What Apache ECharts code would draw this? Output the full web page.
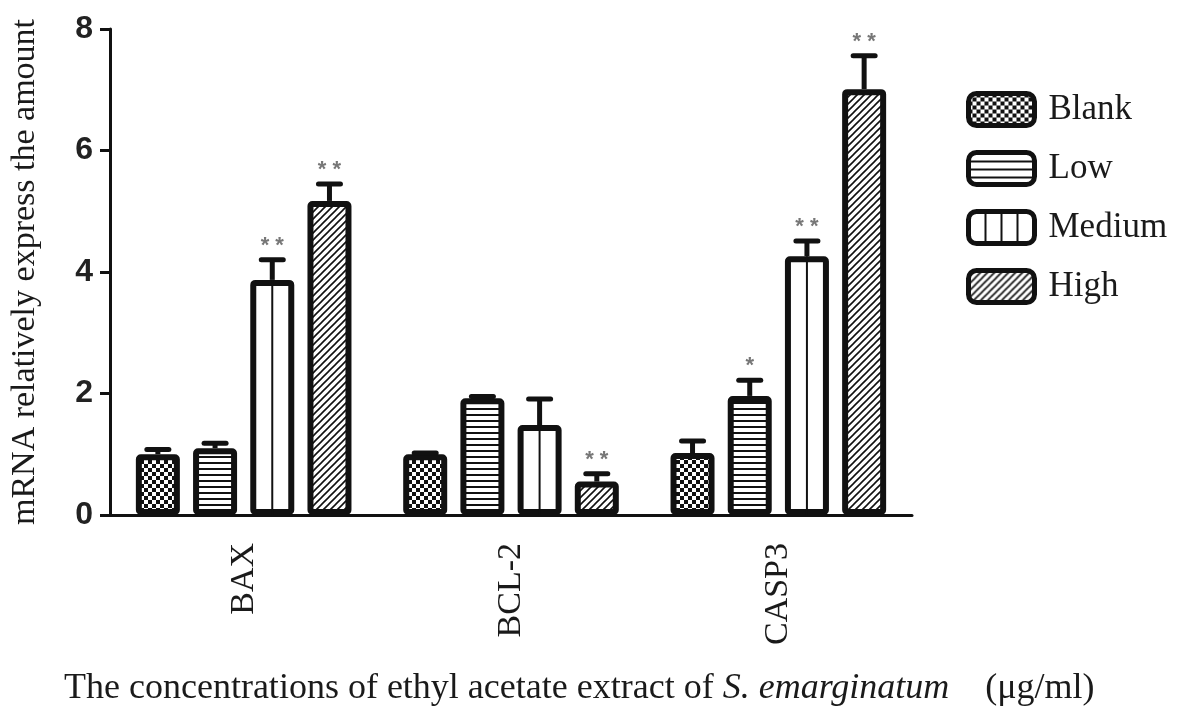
<!DOCTYPE html>
<html><head><meta charset="utf-8">
<script src="https://cdn.jsdelivr.net/npm/echarts@6/dist/echarts.min.js"></script>
<style>html,body{margin:0;padding:0;background:#fff}#c{width:1180px;height:722px}</style>
</head><body><div id="c"></div>
<script>
const categories = ['BAX', 'BCL-2', 'CASP3'];
const seriesNames = ['Blank', 'Low', 'Medium', 'High'];
const blankVals = [1.00, 1.00, 1.02];
const lowVals = [1.10, 1.92, 1.96];
const mediumVals = [3.87, 1.48, 4.26];
const highVals = [5.17, 0.55, 7.01];
const blankErr = [0.08, 0.02, 0.20];
const lowErr = [0.08, 0.03, 0.26];
const mediumErr = [0.33, 0.43, 0.25];
const highErr = [0.28, 0.13, 0.55];
const blankStars = ['', '', ''];
const lowStars = ['', '', '*'];
const mediumStars = ['**', '', '**'];
const highStars = ['**', '**', '**'];
const yTicks = [0, 2, 4, 6, 8];

function mk(w, h, draw) {
  const c = document.createElement('canvas');
  c.width = w; c.height = h;
  const g = c.getContext('2d');
  g.fillStyle = '#fff'; g.fillRect(0, 0, w, h);
  draw(g);
  return { image: c, repeat: 'repeat' };
}
const checker = mk(8, 8, g => { g.fillStyle = '#111'; g.fillRect(0, 0, 4, 4); g.fillRect(4, 4, 4, 4); });
const hstripe = mk(4, 6, g => { g.fillStyle = '#111'; g.fillRect(0, 0, 4, 2); });
const hstripeLegend = mk(4, 8, g => { g.fillStyle = '#111'; g.fillRect(0, 0, 4, 2); });
const diag = mk(7, 7, g => {
  g.strokeStyle = '#111'; g.lineWidth = 1.6;
  g.beginPath(); g.moveTo(-1, 8); g.lineTo(8, -1); g.moveTo(-1, 1); g.lineTo(1, -1); g.moveTo(6, 8); g.lineTo(8, 6); g.stroke();
});
const vstripe = mk(16, 4, g => { g.fillStyle = '#111'; g.fillRect(0, 0, 2, 4); });
const white = '#fff';
const fills = [checker, hstripe, white, diag];

const vals = [blankVals, lowVals, mediumVals, highVals];
const errs = [blankErr, lowErr, mediumErr, highErr];
const stars = [blankStars, lowStars, mediumStars, highStars];

const barW = 44, gapRatio = 0.3, step = barW * (1 + gapRatio);
const extra = [];
for (let s = 0; s < 4; s++) for (let c = 0; c < 3; c++) extra.push([c, vals[s][c], errs[s][c], s, stars[s][c]]);

const chart = echarts.init(document.getElementById('c'), null, { renderer: 'canvas' });
const serif = '"Liberation Serif", "DejaVu Serif", serif';
const bars = seriesNames.map((n, i) => ({
  name: n, type: 'bar', data: vals[i], barWidth: barW, barGap: Math.round(gapRatio * 100) + '%',
  itemStyle: { color: fills[i], borderColor: '#111', borderWidth: 6, borderRadius: 2 },
  emphasis: { disabled: true }, z: 2
}));
const legendFill = [checker, hstripeLegend, vstripe, diag];
chart.setOption({
  animation: false,
  grid: { left: 108, right: 268, top: 29, bottom: 207 },
  legend: {
    orient: 'vertical', left: 961, top: 86, itemWidth: 66, itemHeight: 32, itemGap: 22,
    icon: 'roundRect',
    itemStyle: { borderColor: '#111', borderWidth: 5 },
    textStyle: { fontFamily: serif, fontSize: 35, color: '#1a1a1a', padding: [0, 0, 0, 9], lineHeight: 34 },
    data: seriesNames.map((n, i) => ({ name: n, itemStyle: { color: legendFill[i] } }))
  },
  xAxis: {
    type: 'category', data: categories,
    axisLine: { lineStyle: { color: '#111', width: 3 } },
    axisTick: { alignWithLabel: true, length: 10, lineStyle: { width: 3, color: '#111' } },
    axisLabel: { rotate: 90, margin: 28, fontFamily: serif, fontSize: 34, color: '#1a1a1a' }
  },
  yAxis: {
    type: 'value', min: 0, max: 8, interval: 2,
    name: 'mRNA relatively express the amount', nameLocation: 'middle', nameGap: 68, nameRotate: 90,
    nameTextStyle: { fontFamily: serif, fontSize: 34, color: '#1a1a1a' },
    axisLine: { show: true, lineStyle: { color: '#111', width: 3 } },
    axisTick: { show: true, length: 10, lineStyle: { width: 3, color: '#111' } },
    splitLine: { show: false },
    axisLabel: { margin: 17, fontFamily: '"Liberation Sans", Arial, sans-serif', fontWeight: 'bold', fontSize: 32, color: '#222',
      formatter: v => yTicks.indexOf(v) >= 0 ? String(v) : '' }
  },
  graphic: [{
    type: 'text', left: 64, top: 671,
    style: {
      text: '{a|The concentrations of ethyl acetate extract of }{b|S. emarginatum}{a|    (μg/ml)}',
      rich: {
        a: { fontFamily: serif, fontSize: 36, fill: '#1a1a1a' },
        b: { fontFamily: serif, fontSize: 36, fontStyle: 'italic', fill: '#1a1a1a' }
      }
    }
  }],
  series: bars.concat([{
    type: 'custom', z: 5, silent: true,
    encode: { x: 0, y: 1 },
    data: extra,
    renderItem: (params, api) => {
      const c = api.value(0), v = api.value(1), e = api.value(2), s = api.value(3);
      const st = extra[params.dataIndex][4];
      const dx = (s - 1.5) * step;
      const p0 = api.coord([c, v]), p1 = api.coord([c, v + e]), pb = api.coord([c, 0]);
      const x = p0[0] + dx;
      const kids = [];
      if (s === 2) kids.push({ type: 'line', shape: { x1: x, y1: pb[1], x2: x, y2: p0[1] }, style: { stroke: '#111', lineWidth: 2 } });
      kids.push({ type: 'line', shape: { x1: x, y1: p0[1], x2: x, y2: p1[1] }, style: { stroke: '#111', lineWidth: 5 } });
      kids.push({ type: 'line', shape: { x1: x - 11, y1: p1[1], x2: x + 11, y2: p1[1] }, style: { stroke: '#111', lineWidth: 5, lineCap: 'round' } });
      if (st) kids.push({ type: 'text', style: { text: st.split('').join(' '), x: x, y: p1[1] - 3, textAlign: 'center', textVerticalAlign: 'bottom',
        font: 'bold 22px "Liberation Sans", Arial, sans-serif', fill: '#777' } });
      return { type: 'group', children: kids };
    }
  }])
});
</script></body></html>
